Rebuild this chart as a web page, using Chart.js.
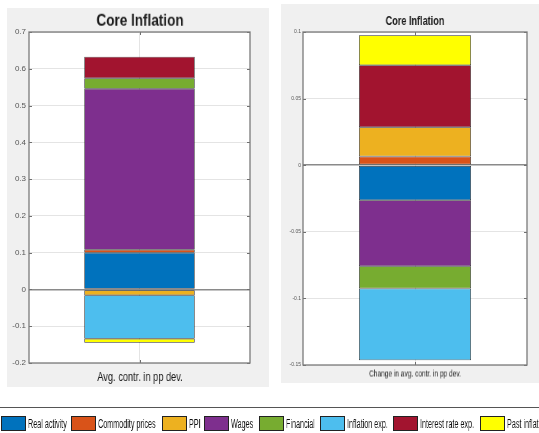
<!DOCTYPE html>
<html>
<head>
<meta charset="utf-8">
<script src="https://cdn.jsdelivr.net/npm/chart.js@4.4.1/dist/chart.umd.min.js"></script>
<style>
  html, body { margin: 0; padding: 0; background: #ffffff; }
  body { width: 539px; height: 433px; position: relative; overflow: hidden; font-family: 'Liberation Sans', Arial, sans-serif; }
  canvas { position: absolute; }
  .txt { position: absolute; white-space: nowrap; line-height: 1; color: #1a1a1a; will-change: transform; -webkit-font-smoothing: antialiased; }
  .legend-line { position: absolute; left: 0; width: 539px; top: 407px; height: 0; border-top: 1px solid #555; }
  .lg-box { position: absolute; top: 416px; width: 23px; height: 13px; border: 1px solid #222; }
  .lg-txt { position: absolute; top: 418px; font-size: 12px; line-height: 12px; white-space: nowrap; color: #111; transform: scaleX(0.6); transform-origin: left center; will-change: transform; -webkit-font-smoothing: antialiased; }
</style>
</head>
<body>
<canvas id="left" width="262" height="379" style="left:7px; top:8px; width:262px; height:379px; background:#f0f0f0;"></canvas>
<canvas id="right" width="258" height="379" style="left:281px; top:4px; width:258px; height:379px; background:#f0f0f0;"></canvas>
<div class="legend-line"></div>
<div id="legend"></div>
<script>
// Contribution components, in stacking order
const seriesNames = ['Real activity', 'Commodity prices', 'PPI', 'Wages', 'Financial', 'Inflation exp.', 'Interest rate exp.', 'Past inflation'];
const seriesColors = ['#0072BD', '#D95319', '#EDB120', '#7E2F8E', '#77AC30', '#4DBEEE', '#A2142F', '#FFFF00'];

// Average contribution in pp deviation
const avgContr = [0.100, 0.008, -0.016, 0.438, 0.028, -0.118, 0.059, -0.011];
// Change in average contribution in pp deviation
const changeAvgContr = [-0.0263, 0.0065, 0.022, -0.0495, -0.0167, -0.054, 0.0465, 0.0225];

const leftCategory = ['Avg. contr. in pp dev.'];
const rightCategory = ['Change in avg. contr. in pp dev.'];
const leftTicks = [-0.2, -0.1, 0, 0.1, 0.2, 0.3, 0.4, 0.5, 0.6, 0.7];
const rightTicks = [-0.15, -0.1, -0.05, 0, 0.05, 0.1];
const titleText = 'Core Inflation';

// White plot area, box frame and inward tick marks
const axesBox = {
  id: 'axesBox',
  beforeDraw(chart) {
    const a = chart.chartArea, c = chart.ctx;
    c.save();
    c.fillStyle = '#ffffff';
    c.fillRect(a.left, a.top, a.right - a.left, a.bottom - a.top);
    c.restore();
  },
  afterDraw(chart) {
    const a = chart.chartArea, c = chart.ctx;
    const y = chart.scales.y, x = chart.scales.x;
    c.save();
    c.strokeStyle = '#6f6f6f';
    c.lineWidth = 1;
    c.beginPath();
    y.ticks.forEach(t => {
      const py = Math.round(y.getPixelForValue(t.value)) + 0.5;
      c.moveTo(a.left, py); c.lineTo(a.left + 3, py);
      c.moveTo(a.right - 3, py); c.lineTo(a.right, py);
    });
    const px = Math.round(x.getPixelForValue(0)) + 0.5;
    c.moveTo(px, a.top); c.lineTo(px, a.top + 3);
    c.moveTo(px, a.bottom); c.lineTo(px, a.bottom - 3);
    c.stroke();
    c.strokeStyle = '#7a7a7a';
    c.lineWidth = 1.3;
    c.strokeRect(a.left, a.top, a.right - a.left, a.bottom - a.top);
    c.restore();
  }
};

function fmt(v) { return String(Number(Number(v).toFixed(3))); }

function makeChart(id, labels, values, ticks, opts) {
  const datasets = seriesNames.map((name, i) => ({
    label: name,
    data: [values[i]],
    backgroundColor: seriesColors[i],
    borderColor: 'rgba(10,10,10,0.85)',
    borderWidth: 0.75,
    borderSkipped: false,
    barPercentage: 0.5,
    categoryPercentage: 1.0
  }));
  return new Chart(document.getElementById(id), {
    type: 'bar',
    data: { labels, datasets },
    plugins: [axesBox],
    options: {
      responsive: false,
      animation: false,
      devicePixelRatio: 1,
      layout: { padding: opts.padding },
      plugins: { legend: { display: false }, tooltip: { enabled: false }, title: { display: false } },
      scales: {
        x: {
          stacked: true,
          border: { display: false },
          ticks: { display: false },
          grid: { offset: false, color: '#e4e4e4', lineWidth: 1, drawTicks: false },
          afterFit(s) { s.height = opts.xHeight; }
        },
        y: {
          stacked: true,
          min: ticks[0],
          max: ticks[ticks.length - 1],
          border: { display: false },
          afterBuildTicks(s) { s.ticks = ticks.map(v => ({ value: v })); },
          ticks: {
            padding: opts.tickPad,
            color: '#555555',
            font: { family: "'Liberation Sans', Arial, sans-serif", size: opts.tickSize },
            callback: v => fmt(v)
          },
          grid: {
            drawTicks: false,
            color: c => (c.tick && c.tick.value === 0) ? '#8a8a8a' : '#e4e4e4',
            lineWidth: c => (c.tick && c.tick.value === 0) ? 1.5 : 1
          },
          afterFit(s) { s.width = 22; }
        }
      }
    }
  });
}

makeChart('left', leftCategory, avgContr, leftTicks,
  { padding: { top: 24, right: 19, bottom: 0, left: 0 }, xHeight: 24, tickPad: 3, tickSize: 8 });
makeChart('right', rightCategory, changeAvgContr, rightTicks,
  { padding: { top: 28, right: 12, bottom: 0, left: 0 }, xHeight: 18, tickPad: 2, tickSize: 5 });

// Titles and axis labels (condensed lettering)
function addText(text, cx, cy, size, weight, sx) {
  const d = document.createElement('div');
  d.className = 'txt';
  d.textContent = text;
  d.style.left = cx + 'px';
  d.style.top = cy + 'px';
  d.style.fontSize = size + 'px';
  d.style.fontWeight = weight;
  d.style.transform = 'translate(-50%, -50%) scaleX(' + sx + ')';
  document.body.appendChild(d);
}
addText(titleText, 139.5, 20, 16.5, 'bold', 0.82);
addText(leftCategory[0], 139.5, 377, 12, 'normal', 0.77);
addText(titleText, 414.5, 21, 12, 'bold', 0.76);
addText(rightCategory[0], 414.5, 374, 9, 'normal', 0.73);

// Shared legend along the bottom edge
const legendX = [1, 71, 162, 204, 259, 320, 393, 480];
const legend = document.getElementById('legend');
seriesNames.forEach((name, i) => {
  const b = document.createElement('div');
  b.className = 'lg-box';
  b.style.left = legendX[i] + 'px';
  b.style.background = seriesColors[i];
  legend.appendChild(b);
  const t = document.createElement('div');
  t.className = 'lg-txt';
  t.style.left = (legendX[i] + 27) + 'px';
  t.textContent = name;
  legend.appendChild(t);
});
</script>
</body>
</html>
